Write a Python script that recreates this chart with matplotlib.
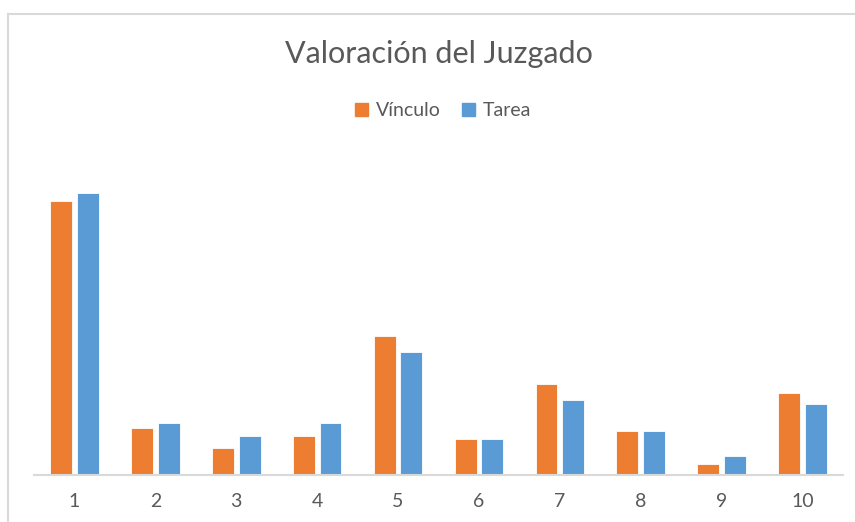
import matplotlib
matplotlib.use("Agg")
import matplotlib.pyplot as plt
from matplotlib.lines import Line2D
from matplotlib.patches import Patch
import numpy as np

# values (no y scale shown, roughly percent)
categories = ["1", "2", "3", "4", "5", "6", "7", "8", "9", "10"]
vinculo = [34.8, 5.9, 3.4, 4.9, 17.6, 4.5, 11.5, 5.5, 1.3, 10.4]
tarea = [35.8, 6.5, 4.9, 6.5, 15.6, 4.5, 9.5, 5.5, 2.4, 9.0]

orange = "#ed7d31"
blue = "#5b9bd5"
grey_text = "#595959"

plt.rcParams['font.family'] = ['Lato', 'DejaVu Sans']

fig = plt.figure(figsize=(8.55, 5.22), dpi=100)
W, H = 855, 522
# plot area in pixels: left 34, right 843, top 150, bottom 474.5
ax = fig.add_axes([34 / W, 1 - 474.5 / H, (843 - 34) / W, (474.5 - 150) / H])

x = np.arange(len(categories))
w = 0.27
ax.bar(x - 0.165, vinculo, w, color=orange, edgecolor="white", linewidth=0.6, label="Vínculo")
ax.bar(x + 0.165, tarea, w, color=blue, edgecolor="white", linewidth=0.6, label="Tarea")

ax.set_xlim(-0.5, len(categories) - 0.5)
ax.set_ylim(0, 41.3)
ax.set_xticks(x)
ax.set_xticklabels(categories, fontsize=14, color=grey_text)
ax.tick_params(axis="x", length=0, pad=13)
ax.set_yticks([])
for side in ["top", "right", "left"]:
    ax.spines[side].set_visible(False)
ax.spines["bottom"].set_color("#d9d9d9")
ax.spines["bottom"].set_linewidth(1.5)

fig.text(439 / W, 1 - 54 / H, "Valoración del Juzgado", ha="center", va="center",
         fontsize=22, color=grey_text)

handles = [Patch(color=orange), Patch(color=blue)]
fig.legend(handles, ["Vínculo", "Tarea"], loc="center", bbox_to_anchor=(443 / W, 1 - 111 / H),
           ncol=2, frameon=False, fontsize=14, labelcolor=grey_text,
           handlelength=0.65, handleheight=0.65, handletextpad=0.4, columnspacing=1.1)

# chart area border (cut off at right and bottom)
fig.add_artist(Line2D([8 / W, 1], [1 - 14 / H, 1 - 14 / H], color="#d9d9d9", linewidth=1.5))
fig.add_artist(Line2D([8 / W, 8 / W], [0, 1 - 14 / H], color="#d9d9d9", linewidth=1.5))

fig.savefig("out.png", dpi=100)
